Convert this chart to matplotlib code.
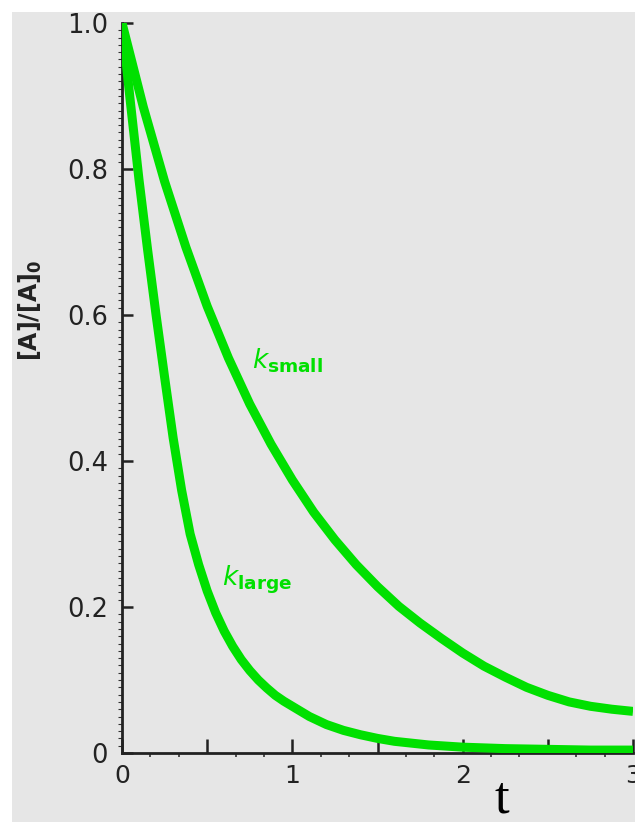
import matplotlib
matplotlib.use("Agg")
import matplotlib.pyplot as plt
from matplotlib.patches import Rectangle
from matplotlib.ticker import MultipleLocator, FixedLocator

plt.rcParams["font.family"] = ["DejaVu Sans"]
plt.rcParams["mathtext.fontset"] = "dejavusans"

# Data
t_small = [0, 0.125, 0.25, 0.375, 0.5, 0.625, 0.75, 0.875, 1.0, 1.125, 1.25, 1.375, 1.5,
           1.625, 1.75, 1.875, 2.0, 2.125, 2.25, 2.375, 2.5, 2.625, 2.75, 2.875, 3.0]
a_small = [1.0, 0.885, 0.783, 0.693, 0.612, 0.541, 0.478, 0.423, 0.374, 0.33, 0.292, 0.258, 0.228,
           0.201, 0.178, 0.157, 0.137, 0.119, 0.104, 0.090, 0.079, 0.070, 0.064, 0.060, 0.057]

t_large = [0, 0.05, 0.1, 0.15, 0.2, 0.25, 0.3, 0.35, 0.4, 0.45, 0.5, 0.55, 0.6, 0.65, 0.7, 0.75,
           0.8, 0.85, 0.9, 0.95, 1.0, 1.1, 1.2, 1.3, 1.4, 1.5, 1.6, 1.8, 2.0, 2.25, 2.5, 2.75, 3.0]
a_large = [1.0, 0.89, 0.785, 0.69, 0.60, 0.515, 0.432, 0.36, 0.30, 0.258, 0.222, 0.192, 0.167, 0.146,
           0.128, 0.113, 0.100, 0.089, 0.079, 0.071, 0.064, 0.050, 0.039, 0.031, 0.025, 0.020, 0.016,
           0.011, 0.008, 0.006, 0.005, 0.004, 0.004]

x_ticks = [0, 0.5, 1, 1.5, 2, 2.5, 3]
x_ticklabels = ["0", "", "1", "", "2", "", "3"]
y_ticks = [0, 0.2, 0.4, 0.6, 0.8, 1.0]
y_ticklabels = ["0", "0.2", "0.4", "0.6", "0.8", "1.0"]

W, H = 635, 822
fig = plt.figure(figsize=(W / 100, H / 100), dpi=100)
fig.patch.set_facecolor("white")
gray = "#e6e6e6"
fig.patches.append(Rectangle((12 / W, 0), 1 - 12 / W, 1 - 12 / H, transform=fig.transFigure,
                             facecolor=gray, edgecolor="none", zorder=-5))

ax = fig.add_axes([122 / W, 69 / H, 511 / W, 730 / H])
ax.set_zorder(2)
ax.patch.set_alpha(0)
green = "#00e000"
ax.plot(t_small, a_small, color=green, lw=6.5, solid_joinstyle="round", solid_capstyle="butt", zorder=3)
ax.plot(t_large, a_large, color=green, lw=6.5, solid_joinstyle="round", solid_capstyle="butt", zorder=3)

ax.set_xlim(0, 3)
ax.set_ylim(0, 1.0)
for s in ["top", "right"]:
    ax.spines[s].set_visible(False)
for s in ["left", "bottom"]:
    ax.spines[s].set_linewidth(2.0)
    ax.spines[s].set_color("#222222")

ax.xaxis.set_major_locator(FixedLocator(x_ticks))
ax.set_xticklabels(x_ticklabels)
ax.xaxis.set_minor_locator(MultipleLocator(1 / 6))
ax.set_yticks(y_ticks)
ax.set_yticklabels(y_ticklabels)
ax.yaxis.set_minor_locator(MultipleLocator(0.01))

ax.tick_params(axis="x", which="major", direction="in", length=10, width=1.8, color="#222222",
               labelsize=18, pad=8, labelcolor="#222222")
ax.tick_params(axis="y", which="major", direction="in", length=8, width=1.8, color="#222222",
               labelsize=18.5, pad=10, labelcolor="#222222")
ax.tick_params(axis="x", which="minor", direction="out", length=3, width=1.2, color="#333333")
ax.tick_params(axis="y", which="minor", direction="out", length=3, width=0.8, color="#333333")

ax.text(0.765, 0.527, r"$k_{\mathbf{small}}$", color=green, fontsize=19, ha="left", va="baseline")
ax.text(0.585, 0.230, r"$k_{\mathbf{large}}$", color=green, fontsize=19, ha="left", va="baseline")

fig.text(30 / W, 1 - 310 / H, r"[A]/[A]$_\mathbf{0}$", rotation=90, ha="center", va="center",
         fontsize=17, fontweight="bold", color="#222222")
fig.text(502 / W, 1 - 812 / H, "t", family="Liberation Serif", fontsize=38, ha="center",
         va="baseline", color="black")

fig.savefig("out.png", dpi=100, facecolor="white")
